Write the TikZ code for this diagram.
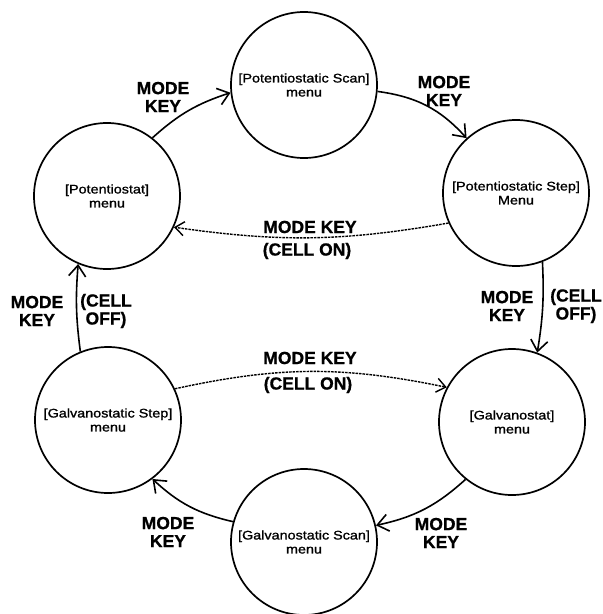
\documentclass[tikz,border=0pt]{standalone}
\usepackage{fontspec}
\setmainfont{Liberation Sans}
\newfontfamily\innerfont[FakeStretch=1.15,FakeBold=1.2]{Liberation Sans}
\newfontfamily\labfont[FakeBold=0.8]{Liberation Sans Bold}
\usetikzlibrary{arrows.meta}
\begin{document}
\begin{tikzpicture}[x=1pt,y=1pt,
  state/.style={draw, circle, line width=1.7pt, minimum size=146pt, inner sep=0pt,
    align=center, font=\innerfont\fontsize{12.5}{14}\selectfont},
  lab/.style={font=\labfont\fontsize{17.5}{18}\selectfont, align=center, inner sep=0pt},
  conn/.style={line width=1.6pt, -{Straight Barb[length=11pt,width=17pt]}},
  dconn/.style={line width=1.4pt, dash pattern=on 2.5pt off 1pt, -{Straight Barb[length=9pt,width=14pt]}}
]
\useasboundingbox (0,0) rectangle (603,-614);
\node[state] (PS)    at (107,-196) {[Potentiostat]\\menu};
\node[state] (PScan) at (304,-85)  {[Potentiostatic Scan]\\menu};
\node[state] (PStep) at (516,-193) {[Potentiostatic Step]\\Menu};
\node[state] (GStep) at (108,-420) {[Galvanostatic Step]\\menu};
\node[state] (Galv)  at (512,-422) {[Galvanostat]\\menu};
\node[state] (GScan) at (304,-542) {[Galvanostatic Scan]\\menu};

\node[lab] (l1)  at (163,-97)  {MODE\\KEY};
\node[lab] (l2)  at (444,-91)  {MODE\\KEY};
\node[lab] (l3a) at (310,-227) {MODE KEY};
\node[lab] (l3b) at (307,-251) {(CELL ON)};
\node[lab] (l4a) at (507,-306) {MODE\\KEY};
\node[lab] (l4b) at (576,-306) {(CELL\\OFF)};
\node[lab] (l5)  at (441,-533) {MODE\\KEY};
\node[lab] (l6)  at (168,-532) {MODE\\KEY};
\node[lab] (l7a) at (37,-311)  {MODE\\KEY};
\node[lab] (l7b) at (106,-311) {(CELL\\OFF)};
\node[lab] (l8a) at (310,-358) {MODE KEY};
\node[lab] (l8b) at (308,-385) {(CELL ON)};

\draw[conn]  (PS.52)    to[bend left=12] (PScan.186);
\draw[conn]  (PScan.-5) to[bend left=20] (PStep.132);
\draw[dconn] (PStep.204) to[bend left=9] (PS.335);
\draw[conn]  (PStep.-69) to[bend left=6] (Galv.70);
\draw[conn]  (Galv.231) to[bend left=15] (GScan.13);
\draw[conn]  (GScan.164) to[bend left=15] (GStep.307);
\draw[conn]  (GStep.112) to[bend left=6] (PS.247);
\draw[dconn] (GStep.25) to[bend left=12] (Galv.152);
\end{tikzpicture}
\end{document}
